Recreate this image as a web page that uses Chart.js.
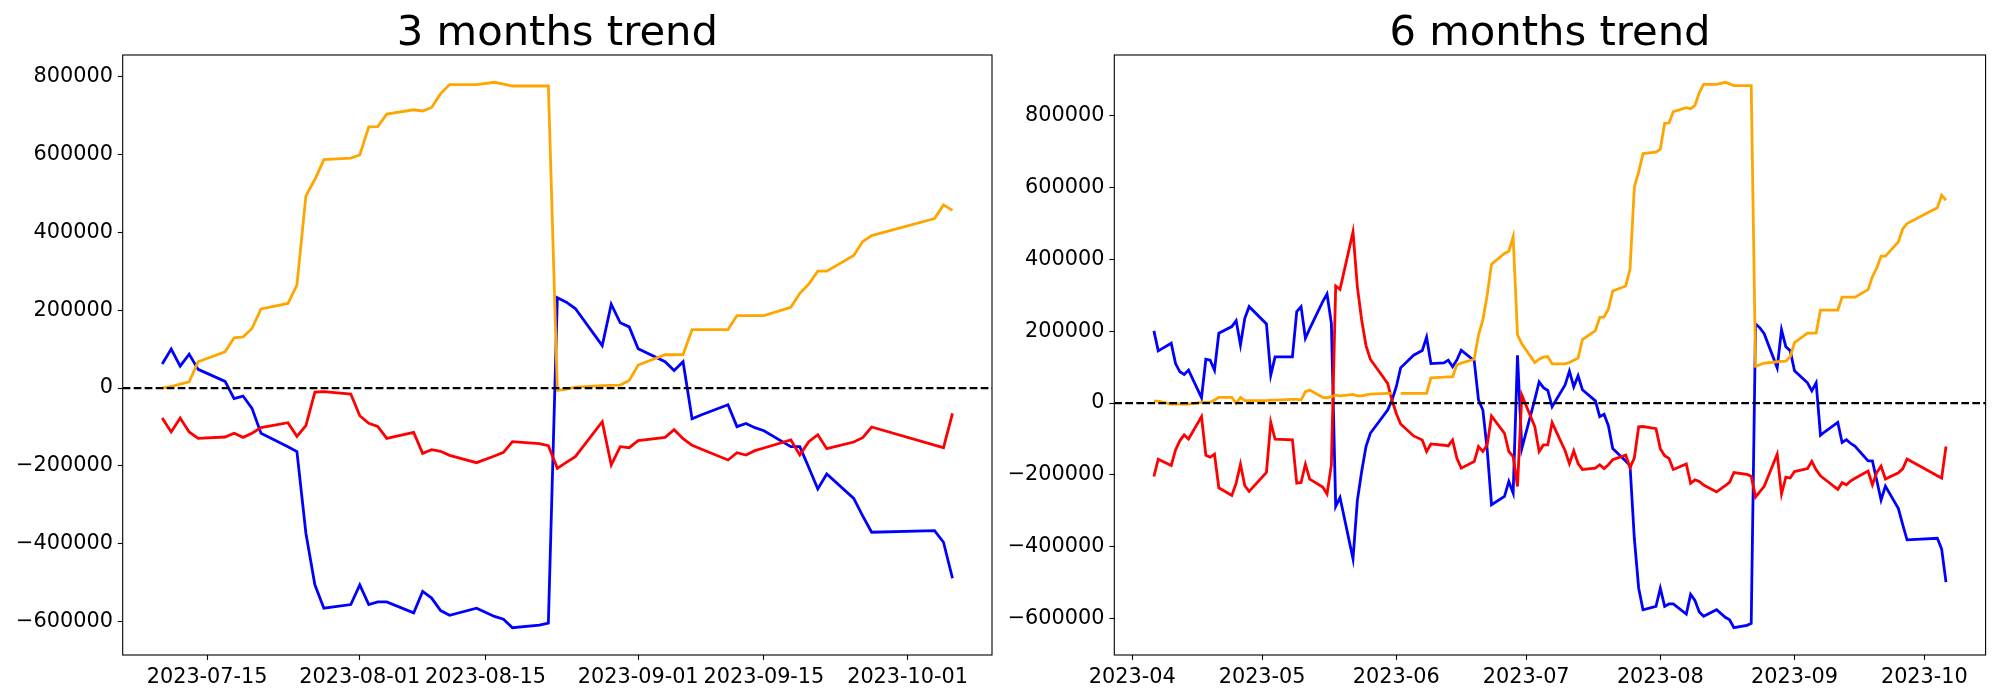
<!DOCTYPE html>
<html>
<head>
<meta charset="utf-8">
<title>trend</title>
<script src="https://cdn.jsdelivr.net/npm/chart.js@4.4.1/dist/chart.umd.min.js"></script>
<style>
  html, body { margin: 0; padding: 0; background: #fff; }
  #wrap { position: relative; width: 2000px; height: 700px; }
  #wrap canvas { position: absolute; top: 0; }
</style>
</head>
<body>
<div id="wrap">
  <canvas id="chart3m" width="1000" height="700" style="left:0"></canvas>
  <canvas id="chart6m" width="1000" height="700" style="left:1000px"></canvas>
</div>
<script>
const YEAR = 2023;
const FONT = "'DejaVu Sans', 'Liberation Sans', sans-serif";

// ---- 3 months trend ----
const dates3m = [
  "07-10","07-11","07-12","07-13","07-14","07-17","07-18","07-19","07-20","07-21",
  "07-24","07-25","07-26","07-27","07-28","07-31",
  "08-01","08-02","08-03","08-04","08-07","08-08","08-09","08-10","08-11","08-14",
  "08-16","08-17","08-18","08-21","08-22","08-23","08-24","08-25","08-28","08-29","08-30","08-31",
  "09-01","09-04","09-05","09-06","09-07","09-08","09-11","09-12","09-13","09-14","09-15",
  "09-18","09-19","09-20","09-21","09-22","09-25","09-26","09-27",
  "10-04","10-05","10-06"
];
const blue3m = [
  61500, 100000, 56400, 87000, 48000, 17000, -27000, -20500, -52000, -116000,
  -150400, -163000, -372600, -505000, -565000, -555500,
  -505000, -555500, -548700, -548700, -577000, -522000, -539000, -571000, -583000, -565000,
  -586000, -593000, -615000, -608500, -603000, 231600, 220500, 204000, 109000, 215000, 167500, 157000,
  101000, 67500, 45000, 67500, -78600, -69000, -43000, -99000, -91000, -101700, -109400,
  -150400, -150400, -204000, -259000, -220500, -283000, -328000, -370000,
  -365800, -395700, -488000
];
const red3m = [
  -77000, -112800, -77000, -112800, -129000, -125600, -116000, -126500, -116000, -101700,
  -89000, -124000, -96600, -10300, -9400, -15400,
  -71000, -90600, -98300, -129000, -113700, -167500, -158000, -162400, -172600, -191500,
  -174400, -165000, -137600, -142700, -147900, -206000, -190600, -176000, -86300, -197400, -150400, -153000,
  -135000, -126500, -106800, -130000, -147000, -156400, -184600, -165800, -171800, -160700, -153800,
  -133300, -171800, -137600, -119700, -155600, -138500, -127300, -100000,
  -146600, -153000, -65000
];
const orange3m = [
  0, 4000, 10000, 16000, 67500, 93000, 129000, 131000, 153000, 203000,
  217000, 264000, 493000, 535000, 586000, 590000,
  598000, 670000, 671000, 703000, 714000, 711000, 720000, 755500, 778600, 778600,
  784600, 780000, 775000, 775000, 775000, -6000, -2500, 2500, 6000, 7000, 7700, 19700,
  59000, 85500, 85500, 86000, 150000, 150000, 150000, 186000, 186000, 186000, 186000,
  207000, 243000, 267000, 300000, 300000, 340000, 376000, 391000,
  435000, 470000, 456000
];
const xTicks3m = ["07-15", "08-01", "08-15", "09-01", "09-15", "10-01"];

// ---- 6 months trend ----
const dates6m = [
  "04-06","04-07","04-10","04-11","04-12","04-13","04-14","04-17","04-18","04-19",
  "04-20","04-21","04-24","04-25","04-26","04-27","04-28",
  "05-02","05-03","05-04","05-08","05-09","05-10","05-11","05-12","05-15","05-16",
  "05-17","05-18","05-19","05-22","05-23","05-24","05-25","05-26","05-30","05-31",
  "06-01","06-02","06-05","06-07","06-08","06-09","06-12","06-13","06-14","06-15",
  "06-16","06-19","06-20","06-21","06-22","06-23","06-26","06-27","06-28","06-29","06-30",
  "07-03","07-04","07-05","07-06","07-07","07-10","07-11","07-12","07-13","07-14",
  "07-17","07-18","07-19","07-20","07-21","07-24","07-25","07-26","07-27","07-28","07-31",
  "08-01","08-02","08-03","08-04","08-07","08-08","08-09","08-10","08-11","08-14",
  "08-16","08-17","08-18","08-21","08-22","08-23","08-24","08-25","08-28","08-29","08-30","08-31",
  "09-01","09-04","09-05","09-06","09-07","09-08","09-11","09-12","09-13","09-14","09-15",
  "09-18","09-19","09-20","09-21","09-22","09-25","09-26","09-27",
  "10-04","10-05","10-06"
];
const blue6m = [
  200900, 145400, 166700, 110000, 87000, 79600, 91700, 14800, 122000, 119400,
  91700, 194400, 213000, 229600, 162000, 236000, 268500,
  220400, 77800, 128700, 128700, 254600, 268500, 180500, 207400, 282400, 303700,
  222000, -288000, -263000, -434000, -272000, -190700, -121300, -84300, -19400, 8000,
  45400, 98000, 133300, 146400, 183600, 110000, 112000, 119400, 101000, 120000,
  147000, 118000, 8300, -19400, -130000, -283300, -260000, -218500, -251000, 133000, -126800,
  10000, 59000, 43000, 35000, -10200, 50500, 89000, 45400, 76000, 37000,
  6000, -38000, -31500, -63000, -127000, -161400, -174000, -378000, -516000, -576000, -566500,
  -516000, -566500, -559700, -559700, -588000, -533000, -550000, -582000, -594000, -576000,
  -597000, -604000, -626000, -619500, -614000, 220600, 209500, 193000, 98000, 204000, 156500, 146000,
  90000, 56500, 34000, 56500, -89600, -80000, -54000, -110000, -102000, -112700, -120400,
  -161400, -161400, -215000, -270000, -231500, -294000, -339000, -381000,
  -376800, -406700, -499000
];
const red6m = [
  -204600, -156500, -174000, -130600, -104600, -88900, -100000, -38000, -145400, -151000,
  -142600, -236100, -257400, -223100, -170400, -230500, -246300,
  -193500, -53700, -100900, -102800, -223100, -221300, -170400, -212000, -234200, -253700,
  -172200, 326000, 316700, 476800, 324000, 231500, 160000, 122000, 54600, 8300,
  -29000, -58300, -91700, -102800, -135000, -114000, -117600, -119400, -102800, -153700,
  -181400, -163000, -121300, -135000, -116700, -36100, -84300, -135000, -149000, -232400, 22200,
  -65700, -135000, -116700, -116700, -54600, -133000, -168800, -133000, -168800, -185000,
  -181600, -172000, -182500, -172000, -157700, -145000, -180000, -152600, -66300, -65400, -71400,
  -127000, -146600, -154300, -185000, -169700, -223500, -214000, -218400, -228600, -247500,
  -230400, -221000, -193600, -198700, -203900, -262000, -246600, -232000, -142300, -253400, -206400, -209000,
  -191000, -182500, -162800, -186000, -203000, -212400, -240600, -221800, -227800, -216700, -209800,
  -189300, -227800, -193600, -175700, -211600, -194500, -183300, -156000,
  -202600, -209000, -121000
];
const orange6m = [
  5500, 5500, -3000, -3000, -3000, -3000, -3000, 2000, 2000, 2000,
  8300, 15700, 15700, -1000, 15700, 6500, 6500,
  6500, 8300, 8300, 10000, 10000, 8300, 31500, 36000, 15700, 14800,
  17600, 22000, 20000, 24000, 20000, 20000, 23000, 25000, 27000, 27000,
  null, 27000, 27000, 27000, 27000, 70000, 72000, 73000, 73000, 106500,
  111000, 122000, 190000, 231500, 301000, 387000, 416700, 423000, 463000, 190000, 165000,
  113000, 122000, 127800, 129600, 109000, 109000, 113000, 119000, 125000, 176500,
  202000, 238000, 240000, 262000, 312000, 326000, 373000, 602000, 644000, 695000, 699000,
  707000, 779000, 780000, 812000, 823000, 820000, 829000, 864500, 887600, 887600,
  893600, 889000, 884000, 884000, 884000, 103000, 106500, 111500, 115000, 116000, 116700, 128700,
  168000, 194500, 194500, 195000, 259000, 259000, 259000, 295000, 295000, 295000, 295000,
  316000, 352000, 376000, 409000, 409000, 449000, 485000, 500000,
  544000, 579000, 565000
];
const xTicks6m = ["04-01", "05-01", "06-01", "07-01", "08-01", "09-01", "10-01"];

const yTicks = [-600000, -400000, -200000, 0, 200000, 400000, 600000, 800000];

// "MM-DD" -> day number (UTC days)
const toDay = (md) => Date.UTC(YEAR, Number(md.slice(0, 2)) - 1, Number(md.slice(3, 5))) / 86400000;
const dayToIso = (d) => new Date(Math.round(d) * 86400000).toISOString().slice(0, 10);

// dashed zero line + full frame like matplotlib spines
const frameAndZero = {
  id: "frameAndZero",
  afterDatasetsDraw(chart) {
    const { ctx, chartArea: a, scales } = chart;
    const y0 = scales.y.getPixelForValue(0);
    ctx.save();
    ctx.beginPath();
    ctx.rect(a.left, a.top, a.right - a.left, a.bottom - a.top);
    ctx.clip();
    ctx.strokeStyle = "#000";
    ctx.lineWidth = 2.2;
    ctx.setLineDash([7.7, 3.3]);
    ctx.beginPath();
    ctx.moveTo(a.left, y0);
    ctx.lineTo(a.right, y0);
    ctx.stroke();
    ctx.restore();

    ctx.save();
    ctx.strokeStyle = "#000";
    ctx.lineWidth = 1.1;
    ctx.strokeRect(a.left, a.top, a.right - a.left, a.bottom - a.top);
    ctx.restore();
  },
};

function drawTrendChart(canvasId, cfg) {
  const canvas = document.getElementById(canvasId);
  const xs = cfg.dates.map(toDay);
  const pts = (vals) => vals.map((v, i) => ({ x: xs[i], y: v }));

  // matplotlib-like 5% autoscale margins
  const vals = [...cfg.blue, ...cfg.red, ...cfg.orange].filter((v) => v !== null);
  const yLo = Math.min(...vals);
  const yHi = Math.max(...vals);
  const yPad = (yHi - yLo) * 0.05;
  const xPad = (xs[xs.length - 1] - xs[0]) * 0.05;

  const line = (data, color, order) => ({
    data: pts(data),
    borderColor: color,
    backgroundColor: color,
    borderWidth: 2.8,
    pointRadius: 0,
    tension: 0,
    spanGaps: false,
    order,
  });

  const tickFont = { family: FONT, size: 20.8 };
  const grid = {
    display: true,
    drawOnChartArea: false,
    drawTicks: true,
    tickLength: 4.9,
    tickWidth: 1.1,
    tickColor: "#000",
    color: "#000",
  };

  return new Chart(canvas, {
    type: "line",
    data: {
      datasets: [
        line(cfg.blue, "#0000ff", 3),
        line(cfg.red, "#ff0000", 2),
        line(cfg.orange, "#ffa500", 1),
      ],
    },
    options: {
      responsive: false,
      animation: false,
      events: [],
      layout: { padding: { left: 0, right: cfg.padRight, top: 0, bottom: 0 } },
      plugins: {
        legend: { display: false },
        tooltip: { enabled: false },
        title: {
          display: true,
          text: cfg.title,
          fullSize: false,
          color: "#000",
          font: { family: FONT, size: 41.7, weight: "normal", lineHeight: 1 },
          padding: { top: 13, bottom: 0.3 },
        },
      },
      scales: {
        x: {
          type: "linear",
          min: xs[0] - xPad,
          max: xs[xs.length - 1] + xPad,
          grid,
          border: { display: false },
          afterFit: (s) => { s.height = 45; },
          afterBuildTicks: (s) => { s.ticks = cfg.xTicks.map((md) => ({ value: toDay(md) })); },
          ticks: {
            autoSkip: false,
            maxRotation: 0,
            minRotation: 0,
            padding: 4.9,
            color: "#000",
            font: tickFont,
            callback: (v) => cfg.fmt(dayToIso(v)),
          },
        },
        y: {
          type: "linear",
          min: yLo - yPad,
          max: yHi + yPad,
          grid,
          border: { display: false },
          afterFit: (s) => { s.width = cfg.axisLeft; },
          afterBuildTicks: (s) => { s.ticks = yTicks.map((v) => ({ value: v })); },
          ticks: {
            padding: 4.9,
            color: "#000",
            font: tickFont,
            callback: (v) => (v < 0 ? "\u2212" + Math.abs(v) : String(v)),
          },
        },
      },
    },
    plugins: [frameAndZero],
  });
}

drawTrendChart("chart3m", {
  title: "3 months trend",
  dates: dates3m,
  blue: blue3m,
  red: red3m,
  orange: orange3m,
  xTicks: xTicks3m,
  fmt: (iso) => iso,
  axisLeft: 122.7,
  padRight: 8,
});

drawTrendChart("chart6m", {
  title: "6 months trend",
  dates: dates6m,
  blue: blue6m,
  red: red6m,
  orange: orange6m,
  xTicks: xTicks6m,
  fmt: (iso) => iso.slice(0, 7),
  axisLeft: 114.3,
  padRight: 14.4,
});
</script>
</body>
</html>
